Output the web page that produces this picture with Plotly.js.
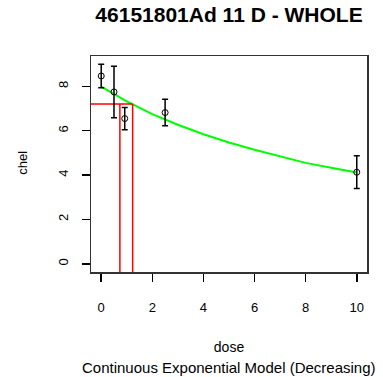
<!DOCTYPE html>
<html>
<head>
<meta charset="utf-8">
<script src="https://cdn.plot.ly/plotly-3.0.1.min.js"></script>
<style>html,body{margin:0;padding:0;background:#fff;}#chart{width:383px;height:377px;}</style>
</head>
<body>
<div id="chart"></div>
<script>
// Observed data (dose groups, means, CI half-widths)
var doses = [0, 0.5, 0.92, 2.5, 10];
var means = [8.47, 7.75, 6.55, 6.82, 4.13];
var errs = [0.53, 1.16, 0.5, 0.6, 0.74];

// Fitted exponential model curve
var curveDose = [0, 1, 2, 3, 4, 5, 6, 7, 8, 9, 10];
var curveVal = [7.99, 7.32, 6.75, 6.27, 5.84, 5.47, 5.14, 4.85, 4.55, 4.33, 4.12];

// Benchmark dose markers
var bmrLevel = 7.2;
var bmd = 1.23;
var bmdl = 0.73;

var xRange = [-0.4, 10.4];
var yRange = [-0.37, 9.37];
var xTicks = [0, 2, 4, 6, 8, 10];
var yTicks = [0, 2, 4, 6, 8];

var font = 'Liberation Sans, Arial, sans-serif';

var traces = [
  {x: curveDose, y: curveVal, mode: 'lines', line: {color: '#00ff00', width: 2}, hoverinfo: 'skip'},
  {x: [xRange[0], bmd], y: [bmrLevel, bmrLevel], mode: 'lines', line: {color: '#ff0000', width: 1.5}},
  {x: [bmdl, bmdl], y: [yRange[0], bmrLevel], mode: 'lines', line: {color: '#ff0000', width: 1.5}},
  {x: [bmd, bmd], y: [yRange[0], bmrLevel], mode: 'lines', line: {color: '#ff0000', width: 1.5}},
  {x: doses, y: means, mode: 'markers',
   marker: {symbol: 'circle-open', size: 6, color: '#000', line: {width: 1, color: '#000'}},
   error_y: {type: 'data', array: errs, visible: true, color: '#000', thickness: 1.5, width: 3}}
];

var layout = {
  width: 383, height: 377,
  margin: {l: 91, r: 16, t: 56, b: 105},
  paper_bgcolor: '#fff', plot_bgcolor: '#fff',
  showlegend: false,
  font: {family: font, color: '#000', size: 13},
  title: {text: '46151801Ad 11 D - WHOLE', x: 0.5, xref: 'paper', y: 1 - 15/377, yref: 'container', yanchor: 'middle',
          font: {family: font, size: 21, weight: 'bold', color: '#000'}},
  xaxis: {range: xRange, tickvals: xTicks, ticktext: xTicks.map(String), showgrid: false, zeroline: false,
          showline: true, mirror: true, linecolor: '#333', linewidth: 1.5,
          ticks: 'outside', ticklen: 8, tickwidth: 1.5, tickcolor: '#000', ticklabelstandoff: 15,
          tickfont: {size: 13},
          title: {text: 'dose', font: {size: 14}, standoff: 28}},
  yaxis: {range: yRange, tickvals: yTicks, ticktext: yTicks.map(String), showgrid: false, zeroline: false,
          showline: true, mirror: true, linecolor: '#333', linewidth: 1.5,
          ticks: 'outside', ticklen: 8, tickwidth: 1.5, tickcolor: '#000', tickangle: -90, ticklabelstandoff: 8,
          tickfont: {size: 13}},
  annotations: [
    {text: 'chel', xref: 'paper', yref: 'paper', x: (21.7 - 91) / 276, y: (272 - 163) / 216,
     xanchor: 'center', yanchor: 'middle', textangle: -90, showarrow: false, font: {size: 13}},
    {text: 'Continuous Exponential Model (Decreasing)', xref: 'paper', yref: 'paper', x: 0.5, y: -(367 - 272) / 216,
     xanchor: 'center', yanchor: 'middle', showarrow: false, font: {size: 15}}
  ]
};

Plotly.newPlot('chart', traces, layout, {staticPlot: true, displayModeBar: false});
</script>
</body>
</html>
